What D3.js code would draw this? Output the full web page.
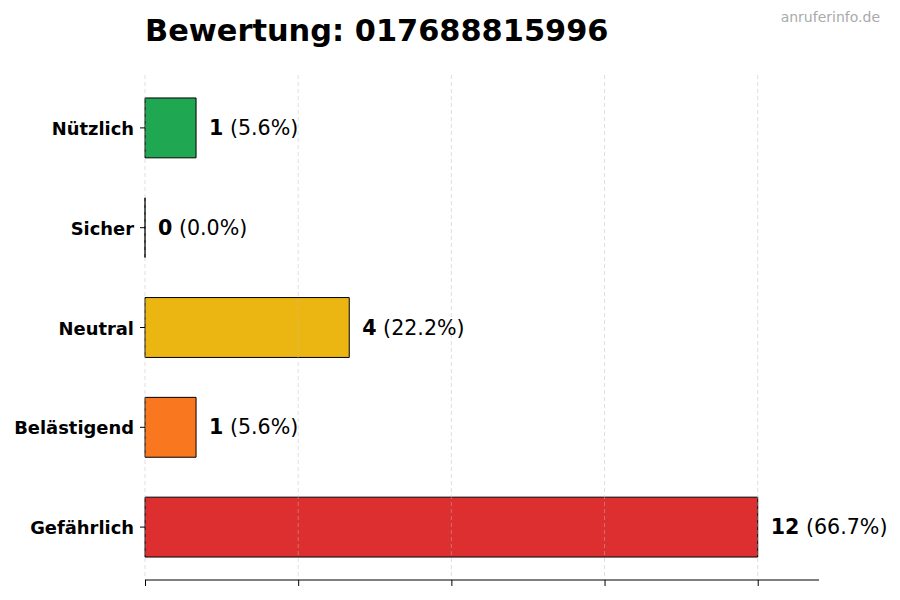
<!DOCTYPE html>
<html>
<head>
<meta charset="utf-8">
<script src="https://cdn.jsdelivr.net/npm/d3@7"></script>
<style>
  body { margin: 0; background: #fff; }
  svg { font-family: "DejaVu Sans", sans-serif; }
</style>
</head>
<body>
<div id="viz"></div>
<script>
// data
var categories = ['Gefährlich', 'Belästigend', 'Neutral', 'Sicher', 'Nützlich']
var counts = [12, 1, 4, 0, 1]
var colors = ['#dc2626', '#f97316', '#eab308', '#3b82f6', '#16a34a']
var xTicks = [0, 3, 6, 9, 12]
var title = 'Bewertung: 017688815996'
var source = 'anruferinfo.de'

const w = 900
const h = 600
const mLeft = 145, mRight = 819, mTop = 75, mBottom = 580

var total = d3.sum(counts)

var svg = d3.select('#viz')
  .append('svg')
  .attr('width', w)
  .attr('height', h)

var x = d3.scaleLinear()
  .domain([0, d3.max(counts) * 1.1])
  .range([mLeft, mRight])

// categories bottom-up, like matplotlib barh
var y = d3.scaleBand()
  .domain(categories)
  .range([mBottom, mTop])
  .paddingInner(0.4)
  .paddingOuter(0.23)

// bars (path so a zero bar still shows its edge)
var rows = categories.map((c, i) => ({ cat: c, val: counts[i], col: colors[i] }))

svg.selectAll('path.bar')
  .data(rows)
  .enter()
  .append('path')
  .attr('class', 'bar')
  .attr('d', d => {
    var bw = x(d.val) - x(0), bh = y.bandwidth()
    return 'M' + x(0) + ',' + y(d.cat) + 'h' + bw + 'v' + bh + 'h' + (-bw) + 'Z'
  })
  .style('fill', d => d.col)
  .style('fill-opacity', 0.96)
  .style('stroke', '#000')
  .style('stroke-width', 1)

// grid, drawn over the bars
svg.append('g')
  .selectAll('line')
  .data(xTicks)
  .enter()
  .append('line')
  .attr('x1', d => x(d))
  .attr('x2', d => x(d))
  .attr('y1', mTop)
  .attr('y2', mBottom)
  .style('stroke', '#bbbbbb')
  .style('stroke-opacity', 0.6)
  .style('stroke-width', 0.8)
  .style('stroke-dasharray', '4,3')

// value labels
var lab = svg.selectAll('text.val')
  .data(rows)
  .enter()
  .append('text')
  .attr('class', 'val')
  .attr('x', d => x(d.val) + 13)
  .attr('y', d => y(d.cat) + y.bandwidth() / 2)
  .attr('dominant-baseline', 'central')
  .style('font-size', '20.6px')
  .style('fill', '#000')

lab.append('tspan')
  .style('font-weight', 'bold')
  .text(d => d.val)
lab.append('tspan')
  .text(d => ' (' + (d.val / total * 100).toFixed(1) + '%)')

// x axis
var xAxis = svg.append('g')
  .attr('transform', 'translate(0,' + mBottom + ')')
  .call(d3.axisBottom(x).tickValues(xTicks).tickFormat('').tickSize(6).tickSizeOuter(0))
xAxis.select('.domain').attr('d', 'M' + mLeft + ',0H' + mRight).style('stroke', '#000')
xAxis.selectAll('.tick line').style('stroke', '#000')

// y axis
var yAxis = svg.append('g')
  .attr('transform', 'translate(' + mLeft + ',0)')
  .call(d3.axisLeft(y).tickSize(5).tickPadding(6))
yAxis.select('.domain').remove()
yAxis.selectAll('.tick line').style('stroke', '#000')
yAxis.selectAll('.tick text')
  .attr('dy', '0.4em')
  .style('font-size', '17.9px')
  .style('font-weight', 'bold')
  .style('fill', '#000')
  .style('font-family', '"DejaVu Sans", sans-serif')

// title
svg.append('text')
  .attr('x', mLeft)
  .attr('y', 41)
  .style('font-size', '30.4px')
  .style('font-weight', 'bold')
  .text(title)

svg.append('text')
  .attr('x', 880)
  .attr('y', 22)
  .attr('text-anchor', 'end')
  .style('font-size', '14px')
  .style('fill', '#aaaaaa')
  .text(source)
</script>
</body>
</html>
